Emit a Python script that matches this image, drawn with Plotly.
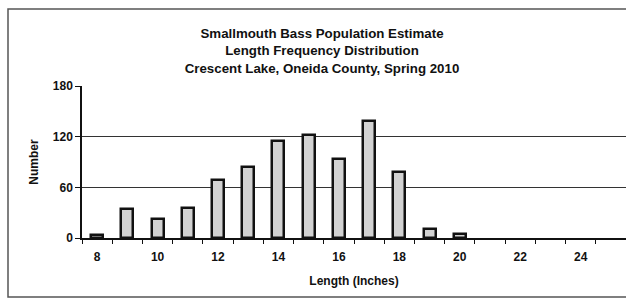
import plotly.graph_objects as go

lengths = list(range(8, 26))
counts = [4, 34, 23, 35, 69, 84, 115, 122, 93, 138, 78, 11, 5, 0, 0, 0, 0, 0]
x_tick_vals = [8, 10, 12, 14, 16, 18, 20, 22, 24]
y_tick_vals = [0, 60, 120, 180]

title_lines = ["Smallmouth Bass Population Estimate",
               "Length Frequency Distribution",
               "Crescent Lake, Oneida County, Spring 2010"]

font = "Liberation Sans, Arial, sans-serif"

fig = go.Figure()
fig.add_trace(go.Bar(
    x=lengths, y=counts, width=0.4,
    marker=dict(color="#d2d2d2",
                line=dict(color="#111111", width=[2.5 if c > 0 else 0 for c in counts])),
    showlegend=False,
))

L, R, T, B = 82, 0, 86, 60
W, H = 626, 298
pw = W - L - R
ph = H - T - B

fig.update_layout(
    width=W, height=H,
    margin=dict(l=L, r=R, t=T, b=B),
    paper_bgcolor="white", plot_bgcolor="white",
    font=dict(family=font, color="#111111"),
    title=dict(text="<br>".join(title_lines), x=(322 - L) / pw, xref="paper",
               xanchor="center", y=1 - 38 / H, yanchor="top",
               font=dict(size=13.3, family=font, color="#111111", weight="bold")),
    bargap=0,
)
fig.update_xaxes(
    range=[7.5, 25.5], tickvals=x_tick_vals, ticktext=[str(v) for v in x_tick_vals],
    ticks="", showgrid=False, showline=True, linecolor="#111111", linewidth=1.5,
    tickfont=dict(size=12, weight="bold"), ticklabelstandoff=7,
    title=dict(text="Length (Inches)", font=dict(size=12, weight="bold"), standoff=13),
    minor=dict(tickvals=[v + 0.5 for v in range(7, 25)], ticks="outside", ticklen=4,
               tickcolor="#111111", showgrid=False),
)
fig.update_yaxes(
    range=[0, 180], tickvals=y_tick_vals, ticks="outside", ticklen=5, tickcolor="#111111",
    showgrid=True, gridcolor="#333333", gridwidth=1,
    showline=True, linecolor="#111111", linewidth=1.5, zeroline=False,
    tickfont=dict(size=12, weight="bold"),
    title=dict(text="Number", font=dict(size=12, weight="bold"), standoff=12),
)
# outer chart border
fig.add_shape(type="rect", xref="paper", yref="paper",
              x0=(8 - L) / pw, x1=(640 - L) / pw,
              y0=(T + ph - 297) / ph, y1=(T + ph - 9) / ph,
              line=dict(color="#555555", width=1.5), layer="below")
fig.write_html("out.html", config={"displayModeBar": False},
               post_script="document.body.style.margin='0px';")
